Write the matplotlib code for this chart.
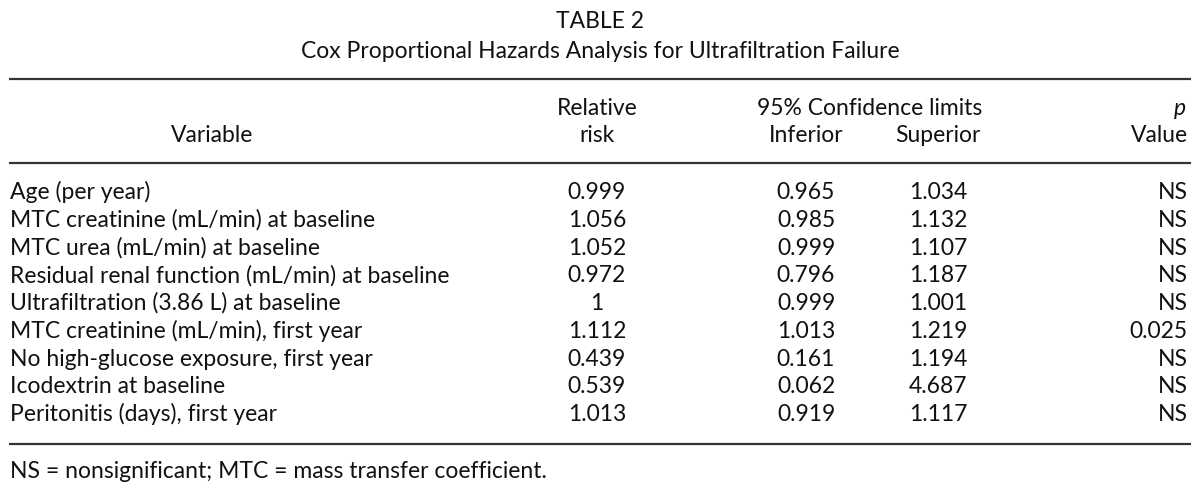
import matplotlib
matplotlib.use('Agg')
import matplotlib.pyplot as plt

title = 'TABLE 2'
subtitle = 'Cox Proportional Hazards Analysis for Ultrafiltration Failure'

variables = [
    'Age (per year)',
    'MTC creatinine (mL/min) at baseline',
    'MTC urea (mL/min) at baseline',
    'Residual renal function (mL/min) at baseline',
    'Ultrafiltration (3.86 L) at baseline',
    'MTC creatinine (mL/min), first year',
    'No high-glucose exposure, first year',
    'Icodextrin at baseline',
    'Peritonitis (days), first year',
]
relative_risk = ['0.999', '1.056', '1.052', '0.972', '1', '1.112', '0.439', '0.539', '1.013']
inferior = ['0.965', '0.985', '0.999', '0.796', '0.999', '1.013', '0.161', '0.062', '0.919']
superior = ['1.034', '1.132', '1.107', '1.187', '1.001', '1.219', '1.194', '4.687', '1.117']
p_value = ['NS', 'NS', 'NS', 'NS', 'NS', '0.025', 'NS', 'NS', 'NS']
footnote = 'NS = nonsignificant; MTC = mass transfer coefficient.'

FONT = 'Lato'
FS = 16.5
TXT = '#111111'

fig = plt.figure(figsize=(12, 4.94), dpi=100)
ax = fig.add_axes([0, 0, 1, 1])
ax.set_xlim(0, 1200)
ax.set_ylim(494, 0)
ax.axis('off')


def put(x, y, s, ha='center', **kw):
    # y is the text baseline in pixels from the top
    ax.text(x, y, s, ha=ha, va='baseline', fontsize=FS, family=FONT, color=TXT, **kw)


put(600, 28, title)
put(600, 58, subtitle)

# horizontal rules
for y in [79, 163, 444]:
    ax.plot([9, 1191], [y, y], color='#333333', lw=1.6, solid_capstyle='butt')

# header
x_var, x_rr, x_inf, x_sup, x_p = 212, 597, 806, 938, 1188
put(x_var, 142, 'Variable')
put(x_rr, 115, 'Relative')
put(x_rr, 142, 'risk')
put(870, 115, '95% Confidence limits')
put(x_inf, 142, 'Inferior')
put(x_sup, 142, 'Superior')
put(1180, 115, 'p', style='italic')
put(x_p, 142, 'Value', ha='right')

# rows
y0, step = 199, 27.75
for i, name in enumerate(variables):
    y = y0 + i * step
    put(10, y, name, ha='left')
    put(x_rr, y, relative_risk[i])
    put(x_inf, y, inferior[i])
    put(x_sup, y, superior[i])
    put(x_p, y, p_value[i], ha='right')

put(10, 478, footnote, ha='left')

fig.savefig('out.png', dpi=100, facecolor='white')
